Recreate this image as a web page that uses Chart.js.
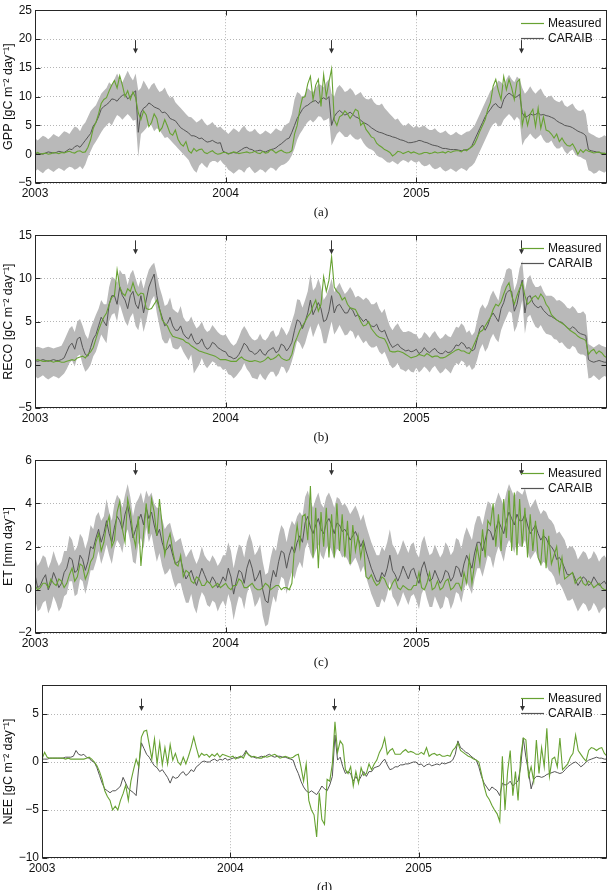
<!DOCTYPE html>
<html>
<head>
<meta charset="utf-8">
<script src="https://cdn.jsdelivr.net/npm/chart.js@4.4.0/dist/chart.umd.min.js"></script>
<style>
  html, body { margin: 0; padding: 0; background: #fff; overflow: hidden; width: 613px; height: 890px; }
  .panel { position: absolute; left: 0; width: 613px; height: 225px; }
</style>
</head>
<body>
<div class="panel" style="top:0px"><canvas id="gpp"></canvas></div>
<div class="panel" style="top:225px"><canvas id="reco"></canvas></div>
<div class="panel" style="top:450px"><canvas id="et"></canvas></div>
<div class="panel" style="top:675px"><canvas id="nee"></canvas></div>
<script>
// ~5-day samples from 2003.0 to 2006.0 (72 per year)
const xTicks = [2003, 2004, 2005]
const arrowDates = [2003.524, 2004.55, 2005.547]
const legendLabels = ['Measured', 'CARAIB']

const gppTicks = [-5, 0, 5, 10, 15, 20, 25]
const gppMeasured = [
  0.1, 0.3, 0.0, 0.1, 0.2, 0.0, 0.1, 0.3, 0.2, 0.1, 0.3, 0.2, 0.4, 0.5, 0.3, 0.2, 0.5, 0.6, 0.3, 0.4, 1.2, 2.5, 4.5, 5.5, 7.0, 8.8, 9.5, 9.8, 11.0, 12.0, 12.8, 11.5, 13.6, 12.0, 10.0, 11.0, 9.5, 10.8, 9.8, 7.2, 6.0, 7.5, 6.8, 4.8, 5.5, 7.0, 6.2, 4.0, 4.6, 6.0, 4.9, 3.6, 3.3, 4.2, 2.6, 1.8, 1.4, 2.2, 0.6, 0.2, 1.0, 0.5, 0.8, 0.9, 0.3, 0.1, 0.4, 0.6, 0.2, 0.0, 0.1, 0.3,
  0.3, 0.0, 0.2, 0.4, 0.3, 0.1, 0.2, 0.3, 0.4, 0.2, 0.3, 0.5, 0.2, 0.1, 0.5, 0.2, 0.3, 0.8, 0.6, 0.2, 0.5, 0.7, 0.4, 0.2, 0.3, 0.6, 3.5, 5.0, 7.8, 9.8, 10.0, 12.2, 13.5, 9.5, 12.0, 13.0, 8.3, 13.8, 10.0, 12.5, 14.8, 6.0, 5.0, 6.5, 6.8, 7.5, 7.0, 6.2, 6.9, 7.8, 7.5, 5.0, 5.5, 4.3, 3.7, 3.0, 2.8, 1.9, 1.5, 1.2, 0.8, 0.6, 0.3, -0.3, 0.0, 0.5, 0.4, 0.1, 0.3, 0.5, 0.2, 0.4,
  0.2, 0.0, 0.1, 0.3, 0.3, 0.1, 0.2, 0.4, 0.2, 0.3, 0.4, 0.2, 0.5, 0.3, 0.5, 0.6, 0.6, 0.4, 0.8, 0.6, 1.0, 1.3, 1.8, 2.8, 4.0, 5.0, 6.0, 7.8, 9.0, 11.8, 13.0, 11.0, 9.5, 13.5, 11.2, 13.0, 11.5, 9.5, 12.5, 13.0, 5.0, 7.2, 5.0, 7.0, 7.8, 4.8, 8.0, 4.5, 6.5, 4.2, 4.0, 3.5, 2.8, 3.5, 2.2, 2.8, 2.0, 1.5, 1.4, 1.8, 1.0, 0.0, 0.8, 0.3, 0.8, 0.5, 0.4, 0.2, 0.3, 0.4, 0.1, 0.2, 0.0
]
const gppCaraib = [
  0.0, 0.2, 0.1, 0.0, 0.2, 0.4, 0.3, 0.2, 0.3, 0.5, 0.4, 0.3, 0.6, 0.9, 0.8, 1.3, 1.5, 1.2, 1.8, 2.4, 3.0, 3.6, 4.9, 5.5, 6.5, 7.8, 8.3, 8.6, 9.0, 9.6, 9.5, 9.2, 9.8, 10.2, 10.4, 9.6, 10.0, 10.6, 11.0, 3.8, 7.2, 8.0, 8.3, 8.9, 8.6, 8.2, 8.0, 7.8, 7.2, 7.3, 6.9, 6.2, 6.0, 5.8, 5.2, 4.6, 4.3, 4.0, 3.7, 3.2, 3.2, 3.0, 2.7, 2.8, 2.4, 2.1, 2.2, 2.4, 2.1, 1.9, 2.0, 0.5,
  0.3, 0.1, 0.2, 0.3, 0.2, 0.5, 0.8, 1.1, 1.2, 0.9, 0.8, 0.5, 0.6, 0.7, 0.5, 0.4, 0.6, 0.8, 0.9, 1.1, 1.5, 1.8, 2.2, 2.6, 2.8, 3.8, 5.0, 6.2, 7.0, 7.8, 8.3, 8.5, 8.9, 9.2, 9.3, 8.8, 9.5, 9.8, 9.5, 10.0, 5.0, 6.5, 7.2, 7.6, 7.2, 6.8, 7.0, 7.3, 6.9, 6.5, 6.3, 5.9, 5.5, 5.3, 5.0, 4.6, 4.3, 4.0, 3.8, 3.7, 3.5, 3.3, 3.2, 3.0, 2.9, 2.7, 2.5, 2.4, 2.2, 2.0, 2.0, 2.1,
  2.2, 2.4, 2.3, 2.1, 2.0, 1.8, 1.6, 1.5, 1.4, 1.2, 1.0, 1.0, 0.9, 0.8, 0.8, 0.8, 0.7, 0.6, 0.7, 0.8, 0.9, 1.5, 2.5, 3.5, 4.5, 5.5, 6.5, 7.2, 7.8, 8.5, 8.8, 8.2, 8.0, 9.5, 10.2, 10.6, 10.3, 9.8, 10.0, 10.4, 7.2, 6.4, 6.6, 7.0, 6.8, 6.9, 7.2, 6.8, 6.9, 6.7, 6.6, 6.4, 6.2, 5.8, 5.5, 5.3, 5.0, 4.9, 4.8, 4.6, 4.3, 4.0, 3.8, 3.6, 3.2, 0.8, 0.6, 0.5, 0.4, 0.3, 0.2, 0.1, 0.0
]
const gppLow = [
  -3.0, -2.6, -3.0, -3.3, -2.8, -2.5, -2.8, -3.1, -2.7, -2.4, -2.6, -2.9, -2.5, -2.2, -2.3, -2.7, -2.5, -2.1, -2.6, -1.8, -0.5, 0.5, 1.5, 2.2, 3.0, 3.8, 4.5, 5.0, 5.5, 5.0, 6.0, 6.8, 6.5, 6.0, 6.5, 7.0, 6.5, 5.8, 6.0, -0.5, 3.5, 4.0, 4.5, 5.3, 5.0, 4.0, 4.5, 4.2, 3.5, 2.8, 3.0, 2.5, 2.0, 1.5, 1.0, 0.5, 0.0, -0.5, -1.0, -2.0, -2.8, -3.2, -2.0, -1.5, -2.0, -2.4, -1.5, -1.2, -1.2, -1.5, -1.0, -1.6,
  -2.0, -2.7, -3.0, -3.4, -3.0, -2.6, -2.8, -3.2, -2.5, -2.2, -2.8, -3.3, -3.0, -2.6, -2.8, -3.2, -2.7, -2.3, -2.5, -2.9, -2.3, -1.9, -1.8, -1.5, -1.0, -0.2, 1.0, 2.5, 3.5, 4.2, 5.0, 5.6, 6.0, 5.5, 6.0, 6.6, 6.5, 5.8, 6.0, 6.3, 1.5, 2.5, 3.5, 4.0, 3.5, 3.0, 3.0, 3.5, 3.0, 2.6, 2.5, 2.8, 2.0, 1.4, 1.0, 0.8, 0.5, -0.2, -0.5, -0.6, -1.0, -1.4, -1.5, -1.2, -1.5, -1.8, -1.3, -1.0, -1.2, -1.5, -1.0, -1.3,
  -1.5, -1.2, -1.8, -2.1, -2.0, -1.7, -2.3, -2.6, -2.5, -2.2, -2.7, -3.0, -2.8, -2.5, -2.8, -3.1, -2.7, -2.4, -2.6, -2.9, -2.3, -2.0, -1.5, -0.5, 0.5, 1.5, 2.5, 3.5, 4.5, 5.2, 5.5, 4.8, 5.0, 6.0, 6.5, 7.0, 6.5, 5.8, 6.5, 6.0, 1.5, 2.5, 3.0, 3.6, 3.0, 2.6, 3.0, 3.4, 2.5, 2.0, 2.0, 2.4, 1.5, 1.0, 1.0, 1.4, 0.5, 0.0, 0.5, 0.8, 0.0, -0.4, -0.5, -0.8, -1.0, -2.8, -3.0, -3.4, -3.2, -2.8, -3.0, -3.2, -2.8
]
const gppHigh = [
  2.8, 2.4, 2.8, 3.2, 3.0, 2.6, 3.0, 3.5, 3.2, 3.0, 3.5, 4.0, 3.8, 3.5, 4.2, 4.8, 4.6, 4.0, 5.0, 5.5, 6.5, 7.5, 8.0, 8.5, 9.5, 10.5, 11.0, 11.5, 12.5, 12.0, 13.0, 14.0, 13.0, 12.5, 13.5, 14.5, 13.5, 12.8, 14.0, 11.0, 11.5, 12.8, 12.0, 11.2, 12.0, 12.4, 11.5, 10.8, 11.0, 11.6, 10.5, 9.8, 10.0, 9.0, 8.5, 8.0, 7.5, 7.0, 6.5, 6.4, 6.0, 5.5, 5.8, 6.2, 5.5, 5.0, 5.2, 5.6, 5.0, 4.6, 4.8, 4.3,
  4.0, 3.5, 4.0, 4.5, 4.2, 3.8, 4.5, 5.0, 4.2, 3.9, 4.0, 4.4, 3.8, 3.4, 3.7, 4.1, 3.8, 3.5, 4.0, 4.5, 4.2, 4.0, 4.8, 5.2, 5.5, 7.0, 9.5, 10.8, 10.5, 9.8, 10.5, 11.5, 11.0, 10.8, 11.5, 12.2, 12.0, 11.6, 12.5, 13.0, 10.5, 10.0, 11.5, 12.0, 11.5, 10.8, 11.0, 11.5, 11.0, 10.2, 10.5, 10.8, 10.0, 9.6, 9.5, 9.8, 9.0, 8.6, 8.5, 8.8, 8.0, 7.5, 7.0, 6.5, 6.0, 6.2, 5.5, 5.0, 5.0, 5.4, 5.0, 4.6,
  5.0, 4.6, 4.8, 5.0, 4.5, 4.2, 4.2, 4.5, 4.0, 3.7, 3.8, 4.1, 3.6, 3.3, 3.5, 3.9, 3.5, 3.3, 3.6, 3.9, 4.0, 4.4, 5.0, 6.0, 7.0, 8.0, 9.0, 10.0, 11.0, 11.5, 12.0, 12.8, 12.5, 12.0, 13.0, 13.8, 13.0, 12.5, 13.5, 13.0, 11.5, 10.5, 11.0, 11.8, 11.0, 10.5, 11.0, 11.4, 10.5, 9.8, 10.0, 10.2, 9.5, 9.2, 9.0, 9.4, 8.5, 8.2, 8.5, 8.8, 8.0, 7.6, 7.5, 7.8, 7.0, 3.8, 3.5, 3.3, 3.0, 2.8, 3.0, 3.3, 3.0
]

const recoTicks = [-5, 0, 5, 10, 15]
const recoMeasured = [
  0.5, 0.6, 0.5, 0.4, 0.4, 0.5, 0.4, 0.3, 0.4, 0.4, 0.3, 0.3, 0.4, 0.5, 0.6, 0.5, 0.8, 0.9, 1.0, 0.8, 1.2, 1.5, 2.0, 3.0, 4.0, 4.8, 5.5, 6.0, 7.0, 7.8, 8.0, 11.0, 9.0, 8.3, 8.0, 8.8, 8.5, 9.5, 8.5, 8.0, 8.3, 8.2, 6.5, 6.4, 6.5, 7.0, 7.5, 6.5, 5.2, 4.8, 4.5, 3.8, 3.3, 3.2, 3.1, 3.0, 2.9, 2.6, 2.5, 2.2, 2.0, 1.8, 1.6, 1.5, 1.4, 1.3, 1.2, 1.1, 1.0, 0.8, 0.6, 0.6,
  0.6, 0.5, 0.4, 0.4, 0.4, 0.7, 0.9, 0.6, 0.5, 0.4, 0.4, 0.5, 0.4, 0.3, 0.4, 0.6, 0.9, 0.6, 0.7, 0.9, 1.2, 0.8, 0.6, 0.5, 0.6, 1.2, 2.5, 3.2, 4.0, 4.5, 5.0, 5.6, 6.0, 6.8, 7.5, 6.2, 7.0, 10.2, 8.5, 9.8, 12.5, 9.0, 8.5, 8.2, 7.5, 7.8, 7.0, 6.6, 6.5, 6.4, 5.8, 5.0, 4.5, 4.6, 5.0, 4.2, 3.8, 3.4, 3.2, 3.1, 3.0, 2.4, 1.6, 1.5, 1.5, 1.6, 1.5, 1.4, 1.2, 1.0, 0.8, 0.9,
  1.0, 1.2, 1.1, 1.0, 1.3, 1.1, 0.9, 1.0, 1.0, 0.8, 0.8, 0.9, 1.1, 1.3, 1.5, 1.7, 1.8, 1.6, 1.6, 1.4, 1.3, 1.8, 2.5, 3.2, 3.8, 4.0, 4.5, 5.0, 5.5, 6.4, 7.0, 6.8, 7.3, 8.2, 9.0, 9.5, 8.0, 7.0, 8.0, 8.8, 9.5, 8.0, 7.0, 7.3, 7.8, 8.0, 7.6, 8.2, 7.8, 7.0, 6.6, 5.8, 5.5, 5.2, 5.0, 4.8, 4.6, 4.3, 4.0, 3.8, 3.6, 3.3, 3.1, 3.0, 2.8, 1.2, 1.6, 1.8, 1.3, 1.6, 1.4, 1.0, 0.8
]
const recoCaraib = [
  0.5, 0.4, 0.5, 0.6, 0.5, 0.4, 0.5, 0.6, 0.5, 0.5, 0.6, 0.8, 1.5, 2.2, 2.5, 1.8, 3.0, 3.2, 2.0, 1.2, 1.0, 2.0, 3.0, 3.5, 4.5, 5.5, 5.0, 4.5, 7.0, 8.0, 8.0, 7.0, 9.0, 8.0, 7.5, 6.5, 8.0, 8.5, 7.0, 6.5, 8.0, 6.0, 7.5, 9.0, 9.8, 10.5, 8.0, 6.5, 5.5, 4.5, 4.8, 5.5, 4.5, 4.0, 4.0, 4.5, 3.6, 3.2, 3.0, 3.6, 2.8, 2.4, 2.5, 3.0, 2.2, 1.8, 2.0, 2.6, 2.4, 2.0, 1.8, 1.6,
  1.5, 1.0, 0.9, 0.7, 0.8, 1.2, 1.8, 2.5, 2.2, 1.6, 1.5, 1.2, 1.4, 1.8, 1.3, 1.1, 1.6, 1.8, 2.0, 1.4, 1.6, 2.4, 2.2, 1.6, 2.0, 2.6, 4.0, 5.2, 5.0, 4.2, 5.0, 6.0, 7.5, 5.8, 6.5, 7.2, 6.5, 5.0, 5.2, 6.2, 8.0, 6.0, 6.8, 7.0, 6.5, 6.0, 6.0, 6.6, 6.3, 5.6, 5.8, 5.4, 5.0, 5.3, 4.8, 4.5, 4.4, 4.7, 4.0, 3.8, 4.0, 3.2, 2.5, 2.0, 2.2, 2.4, 2.0, 1.8, 1.6, 1.7, 1.5, 1.6,
  1.8, 1.3, 1.5, 2.0, 1.6, 1.4, 1.7, 1.9, 1.5, 1.3, 1.3, 1.6, 1.4, 1.5, 1.8, 2.3, 2.2, 2.6, 2.4, 1.9, 2.0, 1.6, 1.8, 3.0, 4.2, 4.6, 4.0, 4.6, 5.5, 6.0, 5.5, 5.0, 6.5, 7.2, 8.3, 8.6, 8.5, 6.2, 7.0, 8.6, 9.8, 6.0, 7.8, 8.0, 7.2, 6.8, 6.6, 6.8, 6.3, 6.0, 5.7, 5.6, 5.4, 5.2, 5.0, 4.9, 4.6, 4.3, 4.1, 4.4, 4.2, 3.8, 3.6, 3.5, 3.4, 0.6, 0.4, 0.3, 0.4, 0.5, 0.4, 0.3, 0.3
]
const recoLow = [
  -1.3, -1.6, -1.4, -1.2, -1.5, -1.7, -1.5, -1.3, -1.4, -1.6, -1.3, -1.0, -0.5, 0.2, 0.5, -0.2, 1.0, 1.2, 0.0, -0.8, -0.5, 0.0, 1.0, 1.5, 2.5, 3.5, 3.0, 2.5, 5.0, 5.8, 6.0, 5.0, 7.0, 6.0, 5.0, 4.5, 5.5, 6.0, 4.5, 4.0, 5.5, 3.8, 5.0, 6.5, 7.5, 8.0, 6.0, 4.5, 3.0, 2.5, 2.5, 3.2, 2.0, 1.8, 1.8, 2.2, 1.5, 1.0, 0.5, 1.2, -1.0, -0.5, 0.0, 0.8, 0.0, -0.4, 0.0, 0.4, 0.2, -0.2, -0.2, -0.6,
  -0.5, -1.1, -1.2, -1.6, -1.3, -0.9, -0.5, 0.2, -0.5, -0.9, -1.5, -1.6, -1.7, -1.0, -1.5, -1.8, -1.2, -0.8, -0.8, -1.4, -1.0, -0.2, -0.3, -1.0, -0.5, 0.4, 1.5, 2.8, 2.5, 1.8, 2.5, 3.6, 4.5, 3.2, 4.0, 4.8, 4.0, 2.5, 2.5, 3.8, 5.0, 3.5, 4.0, 4.6, 4.0, 3.4, 3.5, 4.0, 3.8, 3.0, 3.5, 3.0, 2.5, 2.8, 2.3, 2.0, 2.0, 2.2, 1.5, 1.2, 1.5, 0.8, 0.0, -0.4, -0.2, 0.2, -0.5, -0.6, -0.8, -0.5, -0.8, -0.9,
  -0.3, -0.9, -0.6, -0.2, -0.5, -0.9, -0.4, -0.1, -0.6, -1.0, -0.8, -0.4, -0.7, -1.0, -0.3, 0.2, 0.0, 0.5, 0.3, -0.3, 0.0, -0.6, -0.3, 0.6, 1.8, 2.4, 1.5, 2.0, 3.0, 3.6, 3.0, 2.6, 4.0, 4.8, 5.5, 6.2, 6.0, 3.8, 4.5, 6.0, 7.5, 3.6, 5.5, 5.8, 5.0, 4.4, 4.2, 4.6, 4.0, 3.6, 3.5, 3.4, 3.0, 2.9, 2.5, 2.6, 2.2, 1.9, 1.8, 2.2, 2.0, 1.4, 1.2, 1.2, 1.0, -1.6, -1.5, -1.2, -1.5, -1.8, -1.5, -1.3, -1.4
]
const recoHigh = [
  2.0, 2.1, 2.0, 1.9, 2.0, 2.1, 2.0, 1.9, 2.0, 2.1, 2.2, 2.8, 3.5, 4.2, 4.5, 3.8, 5.0, 5.3, 4.5, 3.5, 3.0, 4.2, 5.0, 5.8, 6.5, 7.5, 7.0, 7.0, 9.0, 10.2, 10.0, 9.5, 11.0, 10.5, 10.5, 9.2, 10.5, 11.0, 10.0, 9.0, 10.0, 8.8, 10.0, 11.0, 11.5, 11.8, 10.5, 9.0, 8.0, 6.8, 7.0, 7.8, 6.5, 6.2, 6.0, 6.8, 5.5, 5.0, 5.0, 5.6, 4.8, 4.2, 4.5, 5.0, 4.2, 3.8, 4.0, 4.6, 4.2, 3.8, 3.5, 3.4,
  3.5, 3.0, 2.5, 2.2, 2.5, 3.2, 4.0, 4.5, 4.0, 3.4, 3.0, 2.8, 3.0, 3.6, 3.0, 2.8, 3.2, 3.8, 4.0, 3.2, 3.5, 4.4, 4.0, 3.4, 4.0, 5.0, 6.0, 7.6, 7.5, 6.6, 7.5, 8.5, 10.5, 8.6, 9.0, 10.0, 9.0, 7.5, 8.0, 8.8, 10.0, 8.4, 9.0, 9.5, 8.8, 8.2, 8.5, 9.0, 8.5, 7.8, 8.0, 7.8, 7.5, 7.8, 7.5, 7.0, 7.0, 7.3, 6.5, 6.0, 6.5, 5.4, 4.5, 4.0, 4.5, 4.8, 4.2, 3.8, 3.8, 3.9, 3.8, 3.6,
  3.5, 3.0, 3.2, 3.8, 3.5, 3.1, 3.6, 3.9, 3.4, 3.0, 3.2, 3.6, 3.3, 3.2, 3.8, 4.4, 4.3, 4.8, 4.5, 3.7, 4.0, 3.4, 3.8, 5.2, 6.5, 7.0, 6.5, 7.0, 8.0, 8.6, 8.0, 7.4, 9.0, 9.8, 11.0, 11.2, 11.0, 8.6, 9.5, 11.2, 12.0, 8.6, 10.0, 10.4, 9.5, 9.0, 9.0, 9.2, 8.5, 8.0, 8.0, 8.0, 7.8, 7.4, 7.5, 7.3, 7.0, 6.6, 6.5, 6.8, 6.5, 6.0, 6.0, 6.2, 5.8, 2.4, 2.2, 2.0, 2.2, 2.4, 2.2, 2.1, 2.0
]

const etTicks = [-2, 0, 2, 4, 6]
const etMeasured = [
  0.2, 0.0, 0.1, 0.3, 0.3, 0.1, 0.5, 0.3, 0.2, 0.5, 0.4, 0.1, 0.3, 0.7, 1.0, 0.4, 0.6, 1.2, 1.1, 0.5, 0.8, 1.3, 1.5, 2.2, 2.6, 1.8, 2.2, 3.0, 3.4, 2.0, 2.3, 3.6, 4.1, 2.8, 2.2, 4.2, 3.6, 2.6, 2.0, 3.4, 1.1, 2.6, 4.0, 2.6, 4.2, 3.6, 2.5, 4.2, 3.0, 1.6, 2.2, 2.6, 1.8, 1.2, 1.1, 1.6, 0.6, 0.9, 0.8, 0.4, 0.3, 0.6, 0.5, 0.2, 0.2, 0.4, 0.3, 0.1, 0.2, 0.3, 0.1, 0.2,
  0.3, 0.1, 0.0, 0.2, 0.2, 0.5, 0.4, 0.1, 0.1, 0.2, 0.3, 0.1, 0.0, 0.0, 0.1, 0.3, 0.2, 0.0, 0.1, 0.2, 0.2, 0.0, 0.1, 0.1, 0.0, 0.3, 2.0, 3.0, 2.0, 3.4, 3.5, 2.3, 4.8, 1.5, 3.8, 1.0, 3.6, 2.0, 3.8, 1.5, 3.5, 1.5, 4.0, 1.8, 3.5, 1.5, 3.2, 1.2, 3.0, 1.8, 2.5, 1.5, 2.2, 0.6, 0.5, 0.7, 0.4, 0.2, 0.3, 0.6, 0.5, 0.2, 0.0, 0.3, 0.5, 0.1, 0.0, 0.2, 0.1, 0.0, 0.0, 0.2,
  0.2, 0.8, 0.1, 0.0, 0.3, 0.8, 0.0, 0.1, 0.4, 0.0, 0.1, 0.4, 0.5, 0.0, 0.1, 0.3, 0.3, 0.0, 0.8, 0.3, 1.5, 0.3, 1.2, 2.0, 1.2, 2.8, 1.5, 3.2, 3.0, 4.0, 2.0, 3.5, 1.8, 4.2, 2.4, 4.6, 1.8, 4.5, 1.6, 4.2, 2.0, 3.8, 1.5, 3.5, 1.8, 3.2, 1.5, 1.2, 2.8, 1.0, 2.5, 1.2, 1.6, 2.0, 0.8, 1.5, 0.5, 0.6, 0.7, 0.8, 0.3, 0.5, 0.6, 0.3, 0.2, 0.4, 0.3, 0.1, 0.2, 0.3, 0.1, 0.0, 0.0
]
const etCaraib = [
  0.7, 0.1, 0.2, 0.5, 0.7, 0.0, 0.3, 0.8, 0.5, 0.1, 0.3, 0.8, 1.0, 1.5, 1.4, 0.8, 0.9, 1.6, 1.4, 0.9, 1.3, 2.0, 1.9, 2.4, 2.8, 2.2, 2.6, 3.2, 2.6, 2.2, 2.9, 3.4, 3.2, 2.8, 3.5, 3.9, 3.2, 2.4, 2.8, 3.2, 3.5, 3.0, 3.8, 3.3, 3.6, 3.0, 2.5, 2.8, 2.2, 1.8, 1.9, 2.1, 1.6, 1.2, 1.3, 1.4, 0.9, 0.5, 0.7, 0.9, 0.5, 0.2, 0.6, 1.0, 0.7, 0.4, 0.3, 0.6, 0.4, 0.1, 0.3, 0.6,
  0.4, 1.0, 0.6, -0.2, 0.4, 0.9, 0.8, 0.3, 1.0, 1.4, 1.0, 0.4, 0.6, 0.9, 0.0, -0.5, -0.6, 0.3, 0.9, 0.6, 1.3, 1.8, 1.7, 1.0, 1.6, 2.0, 1.7, 2.2, 2.5, 2.2, 3.1, 3.4, 2.9, 2.6, 3.0, 3.3, 2.8, 2.6, 3.1, 3.3, 3.0, 2.6, 3.1, 3.0, 2.7, 2.8, 2.6, 2.3, 2.5, 2.7, 2.4, 2.0, 2.3, 1.8, 1.4, 1.0, 0.7, 0.4, 0.4, 0.8, 0.6, 1.0, 1.6, 0.9, 0.7, 0.4, 0.7, 1.1, 0.8, 0.5, 0.9, 1.0,
  0.6, 0.3, 1.0, 1.3, 0.8, 0.4, 0.5, 0.9, 0.6, 0.3, 0.5, 0.9, 0.8, 0.4, 0.6, 1.1, 1.0, 0.6, 1.2, 1.6, 1.3, 1.0, 1.7, 2.2, 2.2, 1.8, 2.3, 2.8, 2.7, 2.3, 2.8, 3.2, 2.9, 2.6, 3.2, 3.6, 3.3, 3.0, 3.5, 3.2, 3.2, 3.5, 3.0, 2.6, 2.8, 3.0, 2.6, 2.3, 2.5, 2.4, 2.1, 2.0, 1.8, 1.4, 1.5, 1.3, 1.0, 0.7, 0.7, 0.8, 0.5, 0.2, 0.4, 0.6, 0.5, 0.2, 0.3, 0.6, 0.4, 0.2, 0.3, 0.4, 0.2
]
const etLow = [
  -0.4, -1.0, -0.9, -0.6, -0.5, -1.1, -0.8, -0.3, -0.6, -1.0, -0.8, -0.3, -0.2, 0.4, 0.4, -0.3, -0.2, 0.5, 0.4, -0.2, 0.3, 0.9, 0.9, 1.3, 1.8, 1.2, 1.6, 2.1, 1.6, 1.2, 1.9, 2.3, 2.1, 1.7, 2.5, 2.8, 2.2, 1.3, 1.2, 2.1, 2.4, 1.9, 2.9, 2.2, 2.6, 1.9, 1.3, 1.7, 1.1, 0.7, 0.8, 1.0, 0.5, 0.1, 0.3, 0.3, -0.2, -0.6, -0.6, -0.2, -0.8, -1.1, -0.5, -0.1, -0.3, -0.7, -0.8, -0.5, -0.6, -1.0, -0.7, -0.5,
  -0.8, -0.2, -0.6, -1.4, -0.8, -0.3, -0.4, -0.9, -0.2, 0.2, -0.2, -0.8, -0.6, -0.3, -1.2, -1.7, -1.6, -0.9, -0.3, -0.6, 0.1, 0.6, 0.5, -0.2, 0.4, 0.8, 0.5, 1.0, 1.3, 1.0, 1.9, 2.2, 1.7, 1.4, 1.8, 2.1, 1.6, 1.4, 1.9, 2.1, 1.8, 1.4, 1.9, 1.8, 1.5, 1.6, 1.4, 1.1, 1.3, 1.5, 1.2, 0.8, 1.1, 0.6, 0.2, -0.2, -0.5, -0.8, -0.8, -0.4, -0.6, -0.2, 0.4, -0.3, -0.5, -0.8, -0.5, -0.1, -0.4, -0.7, -0.3, -0.2,
  -0.5, -0.9, -0.2, 0.1, -0.4, -0.8, -0.8, -0.3, -0.6, -0.9, -0.8, -0.3, -0.4, -0.9, -0.6, -0.1, -0.2, -0.6, 0.0, 0.4, 0.1, -0.2, 0.5, 1.0, 1.0, 0.6, 1.1, 1.6, 1.5, 1.0, 1.6, 2.0, 1.7, 1.3, 2.0, 2.3, 2.1, 1.7, 2.3, 2.0, 2.0, 2.3, 1.8, 1.4, 1.6, 1.8, 1.4, 1.1, 1.3, 1.2, 0.9, 0.8, 0.6, 0.2, 0.3, 0.1, -0.2, -0.5, -0.5, -0.4, -0.7, -1.0, -0.8, -0.6, -0.7, -1.0, -0.9, -0.6, -0.8, -1.1, -0.9, -0.8, -1.0
]
const etHigh = [
  1.6, 1.1, 1.3, 1.6, 1.5, 1.0, 1.3, 1.8, 1.4, 1.1, 1.3, 1.8, 1.8, 2.5, 2.3, 1.8, 2.0, 2.6, 2.4, 1.9, 2.3, 3.0, 2.8, 3.4, 3.6, 3.2, 3.4, 4.2, 3.6, 3.2, 4.0, 4.4, 4.2, 3.8, 4.4, 4.9, 4.3, 3.4, 4.0, 4.2, 4.5, 4.0, 4.6, 4.3, 4.5, 4.0, 3.8, 3.8, 3.3, 2.8, 3.0, 3.1, 2.6, 2.2, 2.3, 2.4, 1.9, 1.5, 1.7, 1.9, 1.5, 1.2, 1.5, 2.0, 1.6, 1.4, 1.3, 1.6, 1.4, 1.1, 1.3, 1.6,
  1.6, 2.2, 1.8, 1.0, 1.6, 2.1, 2.0, 1.5, 2.2, 2.6, 2.2, 1.6, 1.8, 2.1, 1.3, 0.7, 0.8, 1.5, 2.0, 1.8, 2.5, 3.0, 2.8, 2.2, 2.8, 3.2, 3.0, 3.4, 3.6, 3.4, 4.3, 4.6, 4.1, 3.8, 4.2, 4.5, 4.0, 3.8, 4.3, 4.5, 4.2, 3.8, 4.3, 4.2, 3.9, 4.0, 3.8, 3.5, 3.7, 3.9, 3.6, 3.2, 3.5, 3.0, 2.6, 2.2, 1.9, 1.6, 1.6, 2.0, 1.8, 2.2, 2.8, 2.1, 1.9, 1.6, 1.9, 2.3, 2.0, 1.7, 2.1, 2.2,
  1.7, 1.5, 2.2, 2.5, 2.0, 1.6, 1.7, 2.1, 1.8, 1.5, 1.7, 2.2, 2.0, 1.6, 1.8, 2.4, 2.3, 1.9, 2.5, 2.9, 2.6, 2.3, 3.0, 3.4, 3.4, 3.0, 3.6, 4.1, 4.0, 3.6, 4.1, 4.5, 4.2, 3.9, 4.5, 4.9, 4.6, 4.3, 4.6, 4.5, 4.4, 4.7, 4.2, 3.8, 4.0, 4.2, 3.8, 3.5, 3.7, 3.6, 3.3, 3.2, 3.0, 2.6, 2.7, 2.5, 2.3, 1.9, 2.0, 2.0, 1.8, 1.4, 1.6, 1.8, 1.7, 1.4, 1.5, 1.8, 1.6, 1.3, 1.5, 1.6, 1.4
]

const neeTicks = [-10, -5, 0, 5]
const neeMeasured = [
  0.3, 1.0, 0.5, 0.4, 0.4, 0.4, 0.4, 0.4, 0.4, 0.3, 0.4, 0.3, 0.3, 0.3, 0.3, 0.3, 0.3, 0.4, 0.5, 0.3, 0.0, -0.4, -1.0, -1.8, -3.0, -3.6, -4.0, -5.0, -4.6, -5.0, -4.0, -3.3, -2.4, -4.0, -2.0, -0.8, 0.3, -0.5, 2.6, 3.2, 3.3, 1.8, 0.3, 2.4, -0.2, 2.0, -0.3, 1.5, -0.2, 1.8, 0.2, 0.9, 0.0, -0.3, 0.5, -0.2, 0.6, 1.5, 2.6, 1.5, 0.5, 0.9, 0.7, 0.8, 0.5, 0.8, 0.6, 0.9, 0.5, 0.8, 0.7, 0.6,
  0.5, 0.6, 0.3, 0.5, 0.6, 0.4, 1.0, 0.8, 0.5, 0.6, 0.5, 0.4, 0.4, 0.6, 0.5, 0.6, 0.7, 0.8, 0.6, 0.4, 0.5, 0.6, 0.5, 0.4, 0.5, 0.7, 0.8, -0.5, -2.0, -0.2, -4.0, -5.0, -5.5, -7.8, -3.2, -6.0, -6.5, -1.8, -2.0, -0.2, 4.2, 1.0, 2.2, 1.8, -0.8, -1.2, -0.5, -2.5, -1.0, -2.2, -0.6, -1.4, -1.2, -0.2, -0.8, -0.2, 0.2, 1.0, 1.5, 2.5, 0.8, 1.2, 1.4, 0.8, 0.8, 0.8, 1.1, 1.3, 1.0, 1.1, 1.0, 0.8,
  0.8, 1.0, 0.8, 1.5, 0.6, 0.8, 0.9, 0.7, 0.8, 0.6, 0.6, 0.7, 0.6, 1.2, 1.5, 2.0, 1.2, 1.0, 0.8, 0.6, 0.5, 0.3, 0.2, 0.0, -1.2, -2.5, -3.5, -3.9, -4.5, -5.0, -5.4, -6.2, 0.6, -5.0, -1.0, 1.2, -3.5, -1.0, -4.0, 0.5, 2.5, 2.3, -1.5, -0.5, -2.0, 2.3, -1.2, 1.5, -0.5, 3.5, -1.5, 0.3, 0.5, -0.5, 2.5, -0.8, -0.5, -0.2, 0.5, 0.9, 2.8, 1.2, 0.8, 0.4, 0.1, 1.2, 1.5, 1.4, 1.2, 1.4, 1.5, 0.9, 0.6
]
const neeCaraib = [
  0.3, 0.3, 0.3, 0.4, 0.4, 0.4, 0.4, 0.4, 0.4, 0.5, 0.5, 0.5, 0.6, 1.2, 0.8, 0.7, 0.8, 0.5, 0.4, 0.1, 0.0, -0.6, -1.4, -2.2, -2.8, -3.0, -3.2, -3.0, -3.0, -2.8, -2.5, -1.6, -2.2, -2.8, -3.0, -3.2, -3.5, -0.5, 2.0, 1.4, 0.8, 0.5, 0.0, -0.4, -0.6, -1.0, -0.8, -1.2, -1.6, -2.2, -1.5, -1.7, -1.6, -1.2, -1.0, -1.4, -1.2, -0.8, -1.0, -0.5, -0.3, 0.0, 0.1, 0.0, 0.0, 0.2, 0.3, 0.1, 0.3, 0.2, 0.4, 0.2,
  0.3, 0.4, 0.5, 0.4, 0.5, 0.7, 1.2, 0.7, 0.6, 0.5, 0.4, 0.5, 0.6, 0.5, 0.7, 0.8, 0.6, 0.5, 0.6, 0.6, 0.5, 0.5, 0.4, 0.3, 0.2, -0.6, -1.2, -2.0, -2.6, -3.0, -3.2, -3.0, -3.2, -3.4, -3.0, -2.5, -2.8, -3.0, -2.4, -1.5, 2.8, 0.2, 0.5, -0.5, -1.2, -1.0, -1.2, -2.0, -1.5, -2.0, -1.5, -1.0, -1.5, -1.0, -1.0, -0.6, -0.5, -0.4, 0.0, 0.3, -0.3, -0.8, -0.7, -0.5, -0.5, -0.3, -0.3, -0.2, -0.2, -0.1, 0.0, 0.0,
  -0.3, -0.2, -0.5, -0.3, -0.2, -0.4, -0.3, -0.2, -0.3, -0.1, -0.2, -0.1, 0.0, 0.2, 0.8, 2.2, 1.5, 1.3, 1.0, 0.9, 0.6, 0.4, 0.2, -0.5, -1.5, -2.2, -2.6, -3.0, -2.6, -2.8, -3.0, -3.5, -2.2, -2.4, -2.3, -2.0, -2.5, -2.2, -2.0, -0.5, 2.5, 0.5, -1.0, -2.8, -1.8, -1.5, -1.5, -1.6, -1.5, -1.3, -1.2, -1.1, -1.0, -1.1, -1.2, -1.1, -0.8, -0.5, -0.3, -0.1, 0.0, -0.2, -0.5, -0.3, 0.0, 0.2, 0.3, 0.4, 0.5, 0.4, 0.4, 0.3, 0.3
]

const step = 1 / 72
const times = gppMeasured.map((_, i) => 2003 + i * step)

const GREEN = '#67a232'
const GREY = '#555555'
const BAND = '#b9b9b9'
const FONT = '"Liberation Sans", Arial, sans-serif'

const panels = [
  { id: 'gpp', title: 'GPP [gC m\u207B\u00B2 day\u207B\u00B9]', label: '(a)', min: -5, max: 25, ticks: gppTicks,
    measured: gppMeasured, caraib: gppCaraib, low: gppLow, high: gppHigh, arrow: [19.8, 17.5], axisWidth: 35 },
  { id: 'reco', title: 'RECO [gC m\u207B\u00B2 day\u207B\u00B9]', label: '(b)', min: -5, max: 15, ticks: recoTicks,
    measured: recoMeasured, caraib: recoCaraib, low: recoLow, high: recoHigh, arrow: [14.4, 12.8], axisWidth: 35 },
  { id: 'et', title: 'ET [mm day\u207B\u00B9]', label: '(c)', min: -2, max: 6, ticks: etTicks,
    measured: etMeasured, caraib: etCaraib, low: etLow, high: etHigh, arrow: [5.87, 5.3], axisWidth: 35 },
  { id: 'nee', title: 'NEE [gC m\u207B\u00B2 day\u207B\u00B9]', label: '(d)', min: -10, max: 8, ticks: neeTicks,
    measured: neeMeasured, caraib: neeCaraib, arrow: [6.6, 5.3], axisWidth: 42 }
]

const pts = vals => vals.map((v, i) => ({ x: times[i], y: v })).filter(p => p.x !== undefined)
const fmtTick = v => v < 0 ? '\u2212' + Math.abs(v) : String(v)

// frame box, inward tick marks, event arrows and the legend
const frameMarks = {
  id: 'frameMarks',
  afterDraw(chart, args, opts) {
    const { ctx, chartArea: a } = chart
    const xs = chart.scales.x, ys = chart.scales.y
    const L = Math.round(a.left) + 0.5, R = Math.round(a.right) - 0.5
    const T = Math.round(a.top) + 0.5, B = Math.round(a.bottom) - 0.5
    ctx.save()
    ctx.strokeStyle = '#262626'
    ctx.lineWidth = 1
    ctx.strokeRect(L, T, R - L, B - T)
    ctx.beginPath()
    ys.ticks.forEach(t => {
      const py = Math.round(ys.getPixelForValue(t.value)) + 0.5
      ctx.moveTo(L, py); ctx.lineTo(L + 5, py)
      ctx.moveTo(R - 5, py); ctx.lineTo(R, py)
    })
    xs.ticks.forEach(t => {
      const px = Math.round(xs.getPixelForValue(t.value)) + 0.5
      ctx.moveTo(px, B); ctx.lineTo(px, B - 5)
      ctx.moveTo(px, T); ctx.lineTo(px, T + 5)
    })
    ctx.stroke()

    ctx.strokeStyle = '#333'
    ctx.fillStyle = '#333'
    arrowDates.forEach(d => {
      const px = Math.round(xs.getPixelForValue(d)) + 0.5
      const y1 = ys.getPixelForValue(opts.arrow[0])
      const y2 = ys.getPixelForValue(opts.arrow[1])
      ctx.beginPath(); ctx.moveTo(px, y1); ctx.lineTo(px, y2 - 3); ctx.stroke()
      ctx.beginPath(); ctx.moveTo(px - 2.5, y2 - 5); ctx.lineTo(px + 2.5, y2 - 5); ctx.lineTo(px, y2); ctx.closePath(); ctx.fill()
    })

    const colors = [GREEN, GREY]
    ctx.font = '12px ' + FONT
    ctx.textBaseline = 'middle'
    ctx.lineWidth = 1.2
    legendLabels.forEach((txt, i) => {
      const ly = Math.round(a.top + 13 + i * 14.5) + 0.5
      ctx.strokeStyle = colors[i]
      ctx.beginPath(); ctx.moveTo(a.right - 86, ly); ctx.lineTo(a.right - 63, ly); ctx.stroke()
      ctx.fillStyle = '#111'
      ctx.fillText(txt, a.right - 59, ly)
    })
    ctx.restore()
  }
}

panels.forEach(p => {
  const datasets = [
    { data: pts(p.measured), borderColor: GREEN, borderWidth: 1.1, order: 1 },
    { data: pts(p.caraib), borderColor: GREY, borderWidth: 1, order: 2 }
  ]
  if (p.low) {
    datasets.push({ data: pts(p.high), borderColor: 'transparent', borderWidth: 0, backgroundColor: BAND, fill: '+1', order: 3 })
    datasets.push({ data: pts(p.low), borderColor: 'transparent', borderWidth: 0, fill: false, order: 4 })
  }
  new Chart(document.getElementById(p.id), {
    type: 'line',
    data: { datasets },
    plugins: [frameMarks],
    options: {
      responsive: true,
      maintainAspectRatio: false,
      animation: false,
      devicePixelRatio: 1,
      layout: { padding: { top: 9, right: 6, left: 0, bottom: 0 } },
      elements: { point: { radius: 0 }, line: { tension: 0 } },
      plugins: {
        legend: { display: false },
        tooltip: { enabled: false },
        frameMarks: { arrow: p.arrow }
      },
      scales: {
        x: {
          type: 'linear', min: 2003, max: 2006,
          afterBuildTicks: s => { s.ticks = xTicks.map(v => ({ value: v })) },
          afterFit: s => { s.height = 42 },
          ticks: { callback: v => String(v), font: { family: FONT, size: 12 }, color: '#111', padding: 3, maxRotation: 0, autoSkip: false },
          grid: { color: '#b5b5b5', drawTicks: false },
          border: { display: false, dash: [1, 2] },
          title: { display: true, text: p.label, color: '#111', font: { family: '"Liberation Serif", "Times New Roman", serif', size: 13 }, padding: { top: 0, bottom: 5 } }
        },
        y: {
          type: 'linear', min: p.min, max: p.max,
          afterBuildTicks: s => { s.ticks = p.ticks.map(v => ({ value: v })) },
          afterFit: s => { s.width = p.axisWidth },
          ticks: { callback: fmtTick, font: { family: FONT, size: 12 }, color: '#111', padding: 3 },
          grid: { color: '#b5b5b5', drawTicks: false },
          border: { display: false, dash: [1, 2] },
          title: { display: true, text: p.title, color: '#111', font: { family: FONT, size: 12.5 }, padding: { top: 1, bottom: 0 } }
        }
      }
    }
  })
})
</script>
</body>
</html>
